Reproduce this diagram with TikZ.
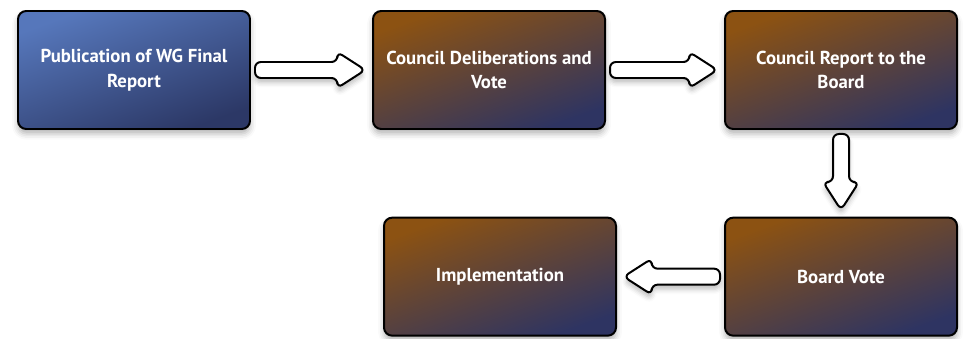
\documentclass[tikz,border=0pt]{standalone}
\usepackage{fontspec}
\setmainfont{PT Sans}
\usetikzlibrary{calc,shadows.blur}

\definecolor{wgblue}{HTML}{5677BB}
\definecolor{wgmid}{HTML}{42598F}
\definecolor{wgnavy}{HTML}{2C3866}
\definecolor{cbrown}{HTML}{8C5212}
\definecolor{cmid}{HTML}{5C3C34}
\definecolor{cnavy}{HTML}{2E3462}

\tikzset{
  stage/.style={draw=black, line width=1.7pt, rounded corners=7pt,
    minimum width=6.96cm, minimum height=3.54cm,
    text=white, align=center,
    font=\fontsize{16}{21}\selectfont\bfseries,
    blur shadow={shadow xshift=0pt, shadow yshift=-4pt, shadow blur radius=5pt, shadow opacity=30}},
  bluestage/.style={stage, top color=wgblue, middle color=wgmid, bottom color=wgnavy, shading angle=20},
  brownstage/.style={stage, top color=cbrown, middle color=cmid, bottom color=cnavy, shading angle=20},
  blockarrow/.style={draw=black, fill=white, line width=1.7pt, rounded corners=5pt,
    blur shadow={shadow xshift=0pt, shadow yshift=-4pt, shadow blur radius=4pt, shadow opacity=25}}
}

\begin{document}
\begin{tikzpicture}
  \useasboundingbox (0,0) rectangle (29.07,-10.17);
  % stages
  \node [bluestage] (pub) at (4.02,-2.1) {Publication of WG Final\\Report};
  \node [brownstage] (delib) at (14.67,-2.1) {Council Deliberations and\\Vote};
  \node [brownstage] (report) at (25.23,-2.1) {Council Report to the\\Board};
  \node [brownstage] (vote) at (25.23,-8.3) {Board Vote};
  \node [brownstage] (impl) at (15.0,-8.3) {Implementation};
  % block arrows
  \foreach \a/\b in {pub.east/delib.west, delib.east/report.west, report.south/vote.north, vote.west/impl.east} {
    \coordinate (s) at ($(\a)!0.12cm!(\b)$);
    \coordinate (e) at ($(\b)!0.2cm!(\a)$);
    \coordinate (n) at ($(e)!0.84cm!(s)$);
    \draw [blockarrow] ($(s)!0.24cm!90:(e)$) -- ($(n)!0.24cm!90:(e)$) -- ($(n)!0.54cm!90:(e)$)
      -- (e) -- ($(n)!0.54cm!-90:(e)$) -- ($(n)!0.24cm!-90:(e)$) -- ($(s)!0.24cm!-90:(e)$) -- cycle;
  }
\end{tikzpicture}
\end{document}
